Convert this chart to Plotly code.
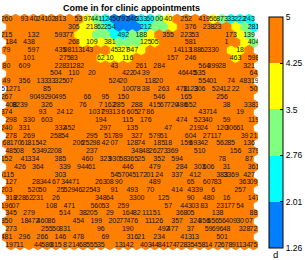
import plotly.graph_objects as go

# ---------------- data ----------------
title_text = "Come in for clinic appointments"
colorbar_label = "d"
n_rows = 30
n_cols = 28

# colour bins of the component plane (1 = lowest bin ... 5 = highest bin)
bin_colors = ["#0080FF", "#00FFFF", "#80FF80", "#FFFF00", "#FF8000"]
bin_values = [1.635, 2.385, 3.13, 3.875, 4.625]
tick_values = [1.26, 2.01, 2.76, 3.5, 4.25, 5.0]
tick_labels = ["1.26", "2.01", "2.76", "3.5", "4.25", "5"]

# bin index of every map unit, one string per map row (column 0 .. 27)
unit_bins = [
    "5555555554321112234555543222",
    "5555555544321112334555555432",
    "5555555544332233455555555543",
    "5555555544443334455555555543",
    "5555555555554444555555555445",
    "5555555555444455555555555455",
    "5555555555555555555555555555",
    "5555555555555555555555555555",
    "5555555555555555555555555555",
    "5555555555555555555555555555",
    "5555555555555555555555555555",
    "5555555555555555555555555555",
    "5555555555555555555555555555",
    "5555555555555555555555555555",
    "5555555555555555555555555555",
    "5555555555555555555555555555",
    "5555555555555555555555555555",
    "5555555555555555555555555555",
    "5555555555555555555555555555",
    "5555555555555555555555555555",
    "5555555555555555555555555555",
    "5555555555555555555555555555",
    "5555555555555555555555555555",
    "5555555555555555555555555555",
    "5555555555555555555555555555",
    "5555555555555555555555555555",
    "5555555555555555555555555555",
    "5555555555555555555555555555",
    "5555555555555555555555555555",
    "5555555555555555555555555555",
]

# hit labels per map row, as "column:label"
unit_labels = [
    "0:260 2:93 3:40 4:241 5:02 6:813 8:53 9:97 10:441 11:12 12:450 13:797 14:346 15:333 16:60 17:00 18:40 20:252 22:419 23:56 24:873 25:33 26:222 27:243",
    "7:305 9:218 10:62 11:254 15:212 20:376 22:238 23:23 27:281",
    "0:215 3:132 6:593 7:77 13:492 15:188 18:355 20:223 21:53 25:173 27:139",
    "0:184 2:438 7:268 9:109 11:381 15:125 16:05 20:581 24:1 27:404",
    "0:79 3:597 6:435 7:081 8:13 9:143 12:45 13:327 14:947 19:14 20:113 21:188 22:62 23:330 26:18",
    "2:101 6:275 7:83 10:62 11:10 13:116 18:157 20:246 25:463 27:598",
    "0:80 2:609 6:228 7:31 8:282 12:43 15:261 17:284 22:564 23:399 24:28 27:321",
    "5:504 7:110 9:20 13:422 14:04 15:39 19:46 20:445 21:535 27:64",
    "0:49 2:356 4:133 5:33 6:325 7:07 12:524 13:20 16:118 17:20 22:554 23:01 25:74 27:48319",
    "0:51271 4:85 13:100 14:78 15:38 17:263 19:478 20:1123 21:306 23:524 24:12 25:22 27:50",
    "0:267 3:90 4:492 5:90 6:495 9:66 11:95 13:150 17:546 20:165 24:256",
    "0:408 1:8239 4:326 8:76 10:7 11:162 12:285 14:288 16:415 17:67 18:720 19:486 20:652 24:38 27:33834",
    "0:374 4:93 6:24 7:12 10:1037 11:29 12:313 13:6 14:605 15:27 16:86 22:437 23:14 26:19",
    "0:298 2:330 4:603 10:194 13:115 15:176 19:474 21:523 22:40 24:59 27:119",
    "0:240 2:331 6:332 7:452 11:297 14:135 18:47 21:219 22:24 24:120 25:306 26:61",
    "0:278 2:269 5:258 6:54 9:295 11:517 12:89 14:327 16:579 17:51 20:604 22:271 23:17 26:39 27:21",
    "0:68 1:170 2:61 3:815 4:42 8:206 9:252 10:98 11:42 12:07 14:128 15:74 17:185 18:18 20:159 21:693 22:42 24:562 25:85 27:136",
    "0:485 1:08 3:534 4:92 5:208 9:237 14:348 15:48 16:262 17:73 18:369 21:510 25:156 27:379",
    "0:152 2:41 3:334 6:385 9:460 11:323 12:930 13:58 14:365 15:25 17:352 19:594 24:78 27:87",
    "1:426 3:364 6:339 8:944 9:61 13:446 16:479 19:284 21:303 22:606 24:31 27:361",
    "0:5115 6:303 12:54 13:570 14:45 15:172 16:01 17:24 19:337 21:412 24:383 25:3369 27:427",
    "0:127 3:283 4:44 5:67 6:34 7:471 10:263 11:08 12:90 16:489 20:65 22:607 23:83 26:363 27:09",
    "0:203 3:520 4:50 6:25 7:529 8:46 9:225 10:43 12:91 14:493 16:70 19:414 21:4339 23:6 26:257",
    "0:318 1:228 2:62 3:231 5:26 10:348 11:64 14:3300 17:125 20:90 22:480 24:16 27:147",
    "0:196 1:07 5:108 7:471 10:560 11:53 13:259 18:57 20:443 21:03 22:83 24:231 25:77 26:54",
    "0:345 2:279 6:514 8:38 9:205 11:29 13:164 14:82 15:11 16:151 19:368 20:05 23:138 27:88",
    "0:350 2:18 3:472 4:460 5:86 8:454 10:199 12:202 13:77 14:476 16:111 17:26 19:357 21:324 22:356 23:656 24:56 25:409 26:30 27:07",
    "0:273 4:255 5:50 6:831 10:96 13:190 17:492 18:477 20:37 22:59 23:696 24:48 26:328 27:72",
    "0:481 2:296 4:266 6:146 8:478 11:69 14:316 15:21 17:234 20:413 21:13 24:501",
    "0:197 1:11 3:44 4:580 5:815 6:8 7:214 8:68 9:555 10:35 12:13 13:142 15:403 16:44 17:841 18:74 19:728 20:35 21:458 22:14 23:72 24:678 25:91 26:134 27:75",
]

# ---------------- figure ----------------
W, H = 305, 260
M_L, M_R, M_T, M_B = 2, 47, 14, 10
plot_w = W - M_L - M_R
plot_h = H - M_T - M_B


def unit_center(r, c):
    # hexagonal lattice: odd rows shifted by half a unit
    return c + 0.5 * (r % 2), r


hex_dx = [0.0, 0.5, 0.5, 0.0, -0.5, -0.5, 0.0]
hex_dy = [-2 / 3, -1 / 3, 1 / 3, 2 / 3, 1 / 3, -1 / 3, -2 / 3]

fig = go.Figure()

for b in range(5):
    xs, ys = [], []
    for r in range(n_rows):
        for c in range(n_cols):
            if int(unit_bins[r][c]) == b + 1:
                cx, cy = unit_center(r, c)
                xs.extend([cx + d for d in hex_dx] + [None])
                ys.extend([cy + d for d in hex_dy] + [None])
    if not xs:
        continue
    fig.add_trace(go.Scatter(
        x=xs, y=ys, mode="lines", fill="toself",
        fillcolor=bin_colors[b],
        line=dict(color=bin_colors[b], width=0.6),
        hoverinfo="skip", showlegend=False,
    ))

# labels
lx, ly, lt = [], [], []
for r, row in enumerate(unit_labels):
    for tok in row.split():
        c, txt = tok.split(":")
        cx, cy = unit_center(r, int(c))
        lx.append(cx)
        ly.append(cy)
        lt.append(txt)

fig.add_trace(go.Scatter(
    x=lx, y=ly, mode="text", text=lt, textposition="middle center",
    textfont=dict(family="Liberation Sans, Arial, sans-serif", size=7, color="#111111"),
    hoverinfo="skip", showlegend=False,
))

# colour bar (discrete)
cscale = []
for b in range(5):
    cscale.append([b / 5, bin_colors[b]])
    cscale.append([(b + 1) / 5, bin_colors[b]])

fig.add_trace(go.Scatter(
    x=[None], y=[None], mode="markers",
    marker=dict(
        color=[tick_values[0], tick_values[-1]],
        colorscale=cscale, cmin=tick_values[0], cmax=tick_values[-1],
        showscale=True,
        colorbar=dict(
            x=(269 - M_L) / plot_w, xanchor="left",
            y=1 - (132.5 - M_T) / plot_h, yanchor="middle",
            thickness=14, lenmode="pixels", len=231,
            xpad=0, ypad=0,
            outlinewidth=1, outlinecolor="#000000",
            tickvals=tick_values, ticktext=tick_labels,
            ticks="inside", ticklen=3, tickcolor="#000000",
            tickfont=dict(family="Liberation Sans, Arial, sans-serif", size=8.5, color="#000000"),
        ),
    ),
    hoverinfo="skip", showlegend=False,
))

fig.add_annotation(
    text="<b>" + title_text + "</b>", xref="paper", yref="paper",
    x=(131.5 - M_L) / plot_w, y=1 + (M_T - 8) / plot_h,
    xanchor="center", yanchor="middle", showarrow=False,
    font=dict(family="Liberation Sans, Arial, sans-serif", size=9, color="#000000"),
)
fig.add_annotation(
    text=colorbar_label, xref="paper", yref="paper",
    x=(275 - M_L) / plot_w, y=1 - (254.5 - M_T) / plot_h,
    xanchor="center", yanchor="middle", showarrow=False,
    font=dict(family="Liberation Sans, Arial, sans-serif", size=9.5, color="#000000"),
)

fig.update_xaxes(range=[-0.5, n_cols], visible=False, fixedrange=True)
fig.update_yaxes(range=[n_rows - 1 + 2 / 3, -2 / 3], visible=False, fixedrange=True)
fig.update_layout(
    width=W, height=H,
    margin=dict(l=M_L, r=M_R, t=M_T, b=M_B, autoexpand=False),
    paper_bgcolor="white", plot_bgcolor="white",
    showlegend=False,
)

# the page body gets no default margin, so the figure sits at the window origin
fig.write_html(
    "out.html",
    config={"displayModeBar": False, "staticPlot": True},
    post_script="document.body.style.margin='0px';",
)
